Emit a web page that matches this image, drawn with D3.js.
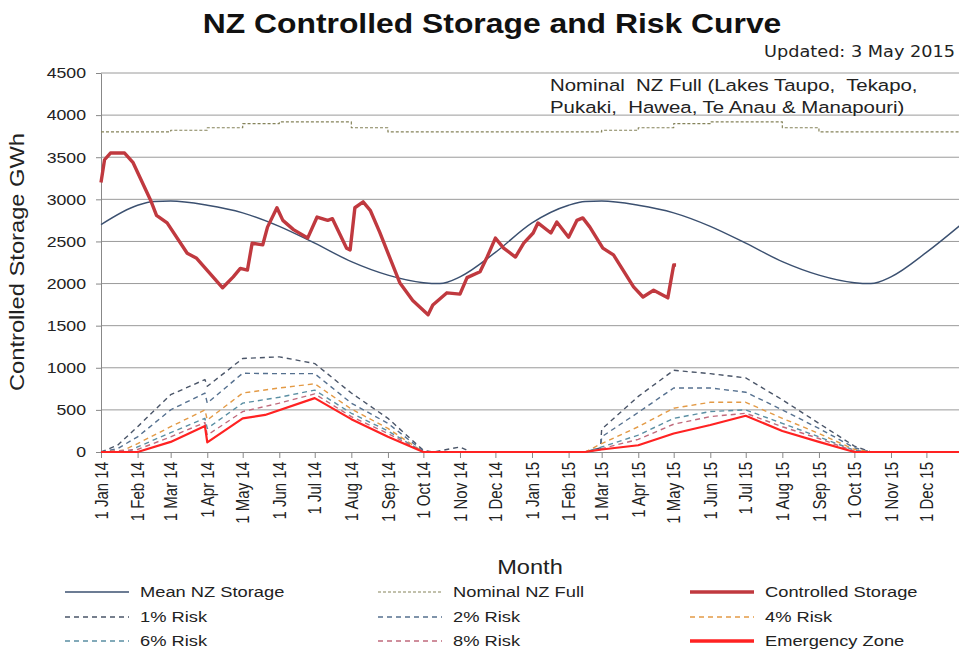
<!DOCTYPE html>
<html>
<head>
<meta charset="utf-8">
<script src="https://cdn.jsdelivr.net/npm/d3@7"></script>
<style>
body { margin: 0; background: #fff; }
text { font-family: "Liberation Sans", Arial, sans-serif; fill: #222; white-space: pre; }
</style>
</head>
<body>
<script>
// ---- data ----
var yTicks = [0, 500, 1000, 1500, 2000, 2500, 3000, 3500, 4000, 4500];

var controlled = [
  ["2014-01-01", 3200], ["2014-01-04", 3470], ["2014-01-09", 3550], ["2014-01-21", 3550],
  ["2014-01-28", 3440], ["2014-02-12", 2990], ["2014-02-17", 2810], ["2014-02-26", 2720],
  ["2014-03-15", 2360], ["2014-03-23", 2300], ["2014-04-14", 1950], ["2014-04-23", 2080],
  ["2014-04-29", 2180], ["2014-05-05", 2160], ["2014-05-09", 2480], ["2014-05-18", 2460],
  ["2014-05-22", 2670], ["2014-05-30", 2900], ["2014-06-04", 2750], ["2014-06-13", 2640],
  ["2014-06-25", 2540], ["2014-07-03", 2790], ["2014-07-12", 2750], ["2014-07-16", 2770],
  ["2014-07-28", 2420], ["2014-07-31", 2400], ["2014-08-04", 2900], ["2014-08-11", 2970],
  ["2014-08-17", 2870], ["2014-08-25", 2610], ["2014-09-11", 2010], ["2014-09-22", 1800],
  ["2014-10-05", 1630], ["2014-10-09", 1745], ["2014-10-21", 1890], ["2014-11-01", 1875],
  ["2014-11-07", 2070], ["2014-11-18", 2140], ["2014-11-24", 2315], ["2014-12-01", 2540],
  ["2014-12-08", 2420], ["2014-12-18", 2315], ["2014-12-25", 2480], ["2015-01-02", 2600],
  ["2015-01-06", 2720], ["2015-01-17", 2600], ["2015-01-22", 2730], ["2015-02-01", 2550],
  ["2015-02-08", 2750], ["2015-02-13", 2780], ["2015-02-19", 2670], ["2015-03-02", 2420],
  ["2015-03-11", 2340], ["2015-03-28", 1960], ["2015-04-05", 1840], ["2015-04-14", 1920],
  ["2015-04-26", 1830], ["2015-05-01", 2220], ["2015-05-03", 2220]
];

var meanStorage = [
  ["2014-01-01", 2700], ["2014-02-01", 2930], ["2014-02-15", 2975], ["2014-03-01", 2980],
  ["2014-04-01", 2930], ["2014-05-01", 2840], ["2014-06-01", 2680], ["2014-07-01", 2480],
  ["2014-08-01", 2260], ["2014-09-01", 2100], ["2014-10-01", 2010], ["2014-10-15", 2000],
  ["2014-11-01", 2080], ["2014-12-01", 2370], ["2015-01-01", 2720], ["2015-02-01", 2930],
  ["2015-02-15", 2975], ["2015-03-01", 2980], ["2015-04-01", 2930], ["2015-05-01", 2840],
  ["2015-06-01", 2680], ["2015-07-01", 2480], ["2015-08-01", 2260], ["2015-09-01", 2100],
  ["2015-10-01", 2010], ["2015-10-15", 2000], ["2015-11-01", 2080], ["2015-12-01", 2370],
  ["2016-01-01", 2720]
];

var nominalFull = [
  ["2014-01-01", 3800], ["2014-03-01", 3820], ["2014-04-01", 3850], ["2014-05-01", 3900],
  ["2014-06-01", 3920], ["2014-08-01", 3850], ["2014-09-01", 3800], ["2015-03-01", 3820],
  ["2015-04-01", 3850], ["2015-05-01", 3900], ["2015-06-01", 3920], ["2015-08-01", 3850],
  ["2015-09-01", 3800], ["2016-01-01", 3800]
];

var risk1 = [
  ["2014-01-01", 0], ["2014-01-15", 80], ["2014-02-01", 300], ["2014-03-01", 680],
  ["2014-03-30", 860], ["2014-04-01", 780], ["2014-05-01", 1110], ["2014-06-01", 1130],
  ["2014-07-01", 1050], ["2014-08-01", 700], ["2014-09-01", 400], ["2014-10-01", 20],
  ["2014-10-10", 0], ["2014-11-01", 60], ["2014-11-10", 0], ["2015-02-15", 0],
  ["2015-02-28", 50], ["2015-03-01", 270], ["2015-04-01", 660], ["2015-05-01", 970],
  ["2015-06-01", 930], ["2015-07-01", 880], ["2015-08-01", 620], ["2015-09-01", 340],
  ["2015-10-01", 70], ["2015-10-15", 0], ["2016-01-01", 0]
];
var risk2 = [
  ["2014-01-01", 0], ["2014-01-15", 40], ["2014-02-01", 180], ["2014-03-01", 500],
  ["2014-03-30", 700], ["2014-04-01", 580], ["2014-05-01", 935], ["2014-06-01", 930],
  ["2014-07-01", 930], ["2014-08-01", 580], ["2014-09-01", 340], ["2014-10-01", 10],
  ["2014-10-10", 0], ["2015-02-15", 0], ["2015-02-28", 30], ["2015-03-01", 180],
  ["2015-04-01", 470], ["2015-05-01", 760], ["2015-06-01", 760], ["2015-07-01", 710],
  ["2015-08-01", 500], ["2015-09-01", 280], ["2015-10-01", 50], ["2015-10-15", 0],
  ["2016-01-01", 0]
];
var risk4 = [
  ["2014-01-01", 0], ["2014-01-20", 20], ["2014-02-01", 100], ["2014-03-01", 300],
  ["2014-03-30", 500], ["2014-04-01", 380], ["2014-05-01", 700], ["2014-06-01", 760],
  ["2014-07-01", 810], ["2014-08-01", 510], ["2014-09-01", 280], ["2014-10-01", 0],
  ["2015-02-15", 0], ["2015-03-01", 100], ["2015-04-01", 300], ["2015-05-01", 520],
  ["2015-06-01", 590], ["2015-07-01", 590], ["2015-08-01", 400], ["2015-09-01", 220],
  ["2015-10-01", 30], ["2015-10-15", 0], ["2016-01-01", 0]
];
var risk6 = [
  ["2014-01-01", 0], ["2014-01-25", 10], ["2014-02-01", 60], ["2014-03-01", 230],
  ["2014-03-30", 400], ["2014-04-01", 280], ["2014-05-01", 580], ["2014-06-01", 650],
  ["2014-07-01", 735], ["2014-08-01", 460], ["2014-09-01", 250], ["2014-10-01", 0],
  ["2015-02-15", 0], ["2015-03-01", 60], ["2015-04-01", 200], ["2015-05-01", 400],
  ["2015-06-01", 480], ["2015-07-01", 500], ["2015-08-01", 340], ["2015-09-01", 180],
  ["2015-10-01", 20], ["2015-10-15", 0], ["2016-01-01", 0]
];
var risk8 = [
  ["2014-01-01", 0], ["2014-02-01", 30], ["2014-03-01", 180], ["2014-03-30", 350],
  ["2014-04-01", 200], ["2014-05-01", 480], ["2014-06-01", 580], ["2014-07-01", 690],
  ["2014-08-01", 420], ["2014-09-01", 220], ["2014-10-01", 0], ["2015-02-15", 0],
  ["2015-03-01", 40], ["2015-04-01", 150], ["2015-05-01", 330], ["2015-06-01", 420],
  ["2015-07-01", 460], ["2015-08-01", 300], ["2015-09-01", 160], ["2015-10-01", 10],
  ["2015-10-15", 0], ["2016-01-01", 0]
];
var emergency = [
  ["2014-01-01", 0], ["2014-02-01", 0], ["2014-03-01", 120], ["2014-03-30", 310],
  ["2014-04-01", 115], ["2014-05-01", 400], ["2014-05-20", 440], ["2014-07-01", 640],
  ["2014-08-01", 390], ["2014-09-01", 180], ["2014-10-01", 0], ["2015-02-15", 0],
  ["2015-03-01", 30], ["2015-04-01", 80], ["2015-05-01", 220], ["2015-06-01", 320],
  ["2015-07-01", 430], ["2015-08-01", 250], ["2015-09-01", 120], ["2015-10-01", 0],
  ["2016-01-01", 0]
];

var legendItems = [
  ["Mean NZ Storage", "mean"], ["Nominal NZ Full", "nominal"], ["Controlled Storage", "controlled"],
  ["1% Risk", "r1"], ["2% Risk", "r2"], ["4% Risk", "r4"],
  ["6% Risk", "r6"], ["8% Risk", "r8"], ["Emergency Zone", "emergency"]
];

// ---- styles ----
var styles = {
  mean:      { color: "#3b5070", width: 1.4, dash: null },
  nominal:   { color: "#85835a", width: 1.2, dash: "3,2" },
  controlled:{ color: "#c0393f", width: 3.4, dash: null },
  r1:        { color: "#4a5568", width: 1.4, dash: "5,4" },
  r2:        { color: "#55708f", width: 1.4, dash: "5,4" },
  r4:        { color: "#e39a45", width: 1.4, dash: "5,4" },
  r6:        { color: "#5a8fa3", width: 1.4, dash: "5,4" },
  r8:        { color: "#c06a7c", width: 1.4, dash: "5,4" },
  emergency: { color: "#ff2222", width: 2.2, dash: null }
};

var W = 959, H = 654;
var SX = 1.18; // the source picture is stretched horizontally
var parse = d3.timeParse("%Y-%m-%d");

var svg = d3.select("body").append("svg")
  .attr("width", W).attr("height", H);

var x = d3.scaleTime()
  .domain([parse("2014-01-01"), parse("2016-01-01")])
  .range([101, 963]);
var y = d3.scaleLinear().domain([0, 4500]).range([452, 73]);

function label(px, py, txt, size, anchor, sx) {
  return svg.append("text")
    .attr("transform", "translate(" + px + "," + py + ") scale(" + (sx || SX) + ",1)")
    .attr("text-anchor", anchor || "start")
    .style("font-size", size + "px")
    .text(txt);
}

// title
label(492, 33, "NZ Controlled Storage and Risk Curve", 27, "middle")
  .style("font-weight", "bold").style("fill", "#111");
label(955, 57, "Updated: 3 May 2015", 15, "end")
  .style("font-family", "DejaVu Sans");

// grid
svg.append("g").selectAll("line").data(yTicks.slice(1)).enter().append("line")
  .attr("x1", 101).attr("x2", W).attr("y1", d => y(d)).attr("y2", d => y(d))
  .attr("stroke", "#9a9a9a").attr("stroke-width", 1);

// y axis
var yAxis = svg.append("g").attr("transform", "translate(101,0)")
  .call(d3.axisLeft(y).tickValues(yTicks).tickSize(5).tickSizeOuter(0)
    .tickFormat(d3.format("d")));
yAxis.selectAll("text").style("font-size", "15px").attr("x", 0)
  .attr("transform", "translate(-15,0) scale(" + SX + ",1)");
yAxis.selectAll("line, path").attr("stroke", "#888");

// x axis
var months = d3.timeMonth.range(parse("2014-01-01"), parse("2016-01-01"));
var xAxis = svg.append("g").attr("transform", "translate(0,452)")
  .call(d3.axisBottom(x).tickValues(months).tickSize(6).tickSizeOuter(0)
    .tickFormat(d3.timeFormat("%-d %b %y")));
xAxis.selectAll("line, path").attr("stroke", "#888");
xAxis.selectAll("text").style("font-size", "15px")
  .attr("transform", "scale(" + SX + ",1) rotate(-90)").attr("text-anchor", "end")
  .attr("x", -10).attr("y", 0).attr("dy", "0.35em");

// axis titles
svg.append("text").attr("transform", "translate(24,262) rotate(-90)")
  .attr("text-anchor", "middle").style("font-size", "20px")
  .attr("textLength", 258).attr("lengthAdjust", "spacingAndGlyphs")
  .text("Controlled Storage GWh");
label(530, 574, "Month", 20, "middle");

// annotation
label(550, 91, "Nominal  NZ Full (Lakes Taupo,  Tekapo,", 17, "start", 1.2);
label(550, 113, "Pukaki,  Hawea, Te Anau & Manapouri)", 17, "start", 1.2);

// lines
var line = d3.line().x(d => x(parse(d[0]))).y(d => y(d[1]));
var stepLine = d3.line().curve(d3.curveStepAfter).x(d => x(parse(d[0]))).y(d => y(d[1]));
var smooth = d3.line().curve(d3.curveMonotoneX).x(d => x(parse(d[0]))).y(d => y(d[1]));

var plot = svg.append("g");
function draw(data, key, gen) {
  var s = styles[key];
  plot.append("path").datum(data).attr("d", gen)
    .attr("fill", "none").attr("stroke", s.color).attr("stroke-width", s.width)
    .attr("stroke-dasharray", s.dash).attr("stroke-linejoin", "round");
}
draw(nominalFull, "nominal", stepLine);
draw(meanStorage, "mean", smooth);
draw(risk1, "r1", line);
draw(risk2, "r2", line);
draw(risk4, "r4", line);
draw(risk6, "r6", line);
draw(risk8, "r8", line);
draw(emergency, "emergency", line);
draw(controlled, "controlled", line);

// legend
var colX = [65, 378, 690], rowY = [592, 617, 641];
legendItems.forEach(function(it, i) {
  var cx = colX[i % 3], cy = rowY[Math.floor(i / 3)];
  var s = styles[it[1]];
  var lw = it[1] === "emergency" ? 3.4 : s.width;
  svg.append("line").attr("x1", cx).attr("x2", cx + 64).attr("y1", cy).attr("y2", cy)
    .attr("stroke", s.color).attr("stroke-width", lw).attr("stroke-dasharray", s.dash);
  label(cx + 75, cy + 5, it[0], 15, "start", 1.22);
});
</script>
</body>
</html>
